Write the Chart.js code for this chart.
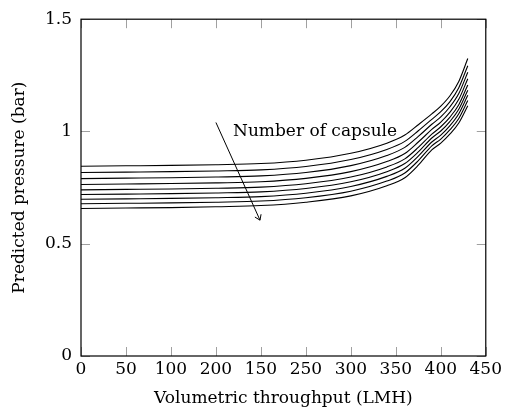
<!DOCTYPE html>
<html>
<head>
<meta charset="utf-8">
<script src="https://cdn.jsdelivr.net/npm/chart.js@4.4.1/dist/chart.umd.min.js"></script>
<style>
  html, body { margin: 0; padding: 0; background: #fff; }
  #wrap { width: 505px; height: 412px; }
</style>
</head>
<body>
<div id="wrap"><canvas id="chart"></canvas></div>
<script>
const throughput = [0, 50, 100, 150, 200, 250, 300, 340, 360, 375, 390, 400, 410, 420, 430];

// one curve per capsule count, top to bottom
const capsule1 = [0.845, 0.847, 0.849, 0.852, 0.857, 0.872, 0.903, 0.948, 0.984, 1.030, 1.078, 1.113, 1.158, 1.223, 1.325];
const capsule2 = [0.817, 0.819, 0.821, 0.824, 0.829, 0.844, 0.875, 0.920, 0.956, 1.003, 1.054, 1.088, 1.132, 1.195, 1.293];
const capsule3 = [0.790, 0.792, 0.794, 0.797, 0.802, 0.817, 0.848, 0.893, 0.929, 0.978, 1.032, 1.065, 1.109, 1.169, 1.264];
const capsule4 = [0.764, 0.766, 0.768, 0.771, 0.776, 0.791, 0.821, 0.866, 0.902, 0.953, 1.009, 1.042, 1.085, 1.143, 1.235];
const capsule5 = [0.740, 0.742, 0.744, 0.747, 0.752, 0.767, 0.797, 0.842, 0.878, 0.929, 0.988, 1.021, 1.063, 1.119, 1.207];
const capsule6 = [0.719, 0.721, 0.723, 0.726, 0.731, 0.746, 0.776, 0.821, 0.857, 0.909, 0.971, 1.002, 1.044, 1.099, 1.184];
const capsule7 = [0.698, 0.700, 0.702, 0.705, 0.710, 0.725, 0.755, 0.800, 0.836, 0.890, 0.953, 0.984, 1.025, 1.079, 1.161];
const capsule8 = [0.678, 0.680, 0.682, 0.685, 0.690, 0.705, 0.734, 0.779, 0.815, 0.870, 0.936, 0.966, 1.007, 1.058, 1.138];
const capsule9 = [0.657, 0.659, 0.661, 0.665, 0.670, 0.685, 0.713, 0.758, 0.794, 0.850, 0.918, 0.948, 0.988, 1.038, 1.115];

// tick labels exactly as printed (note 200 / 150 order)
const xTickLabels = ["0", "50", "100", "200", "150", "250", "300", "350", "400", "450"];
const yTickLabels = ["0", "0.5", "1", "1.5"];

// annotation
const noteText = "Number of capsule";
const notePos = [169, 1.0];
const arrowFrom = [150, 1.04];
const arrowTo = [199, 0.605];

const FONT = "'DejaVu Serif', serif";
const FSIZE = 17;

let chart;

const decorations = {
    id: "decorations",
    afterDatasetsDraw(c) {
        const ctx = c.ctx;
        const a = c.chartArea;
        const x = c.scales.x;
        const y = c.scales.y;
        ctx.save();

        // inward tick marks on all four sides
        ctx.strokeStyle = "#a0a0a0";
        ctx.lineWidth = 1;
        ctx.beginPath();
        x.ticks.forEach(t => {
            const px = Math.round(x.getPixelForValue(t.value)) + 0.5;
            ctx.moveTo(px, a.bottom); ctx.lineTo(px, a.bottom - 9);
            ctx.moveTo(px, a.top); ctx.lineTo(px, a.top + 9);
        });
        y.ticks.forEach(t => {
            const py = Math.round(y.getPixelForValue(t.value)) + 0.5;
            ctx.moveTo(a.left, py); ctx.lineTo(a.left + 9, py);
            ctx.moveTo(a.right, py); ctx.lineTo(a.right - 9, py);
        });
        ctx.stroke();

        // frame
        ctx.strokeStyle = "#000";
        ctx.lineWidth = 1.2;
        ctx.strokeRect(a.left, a.top, a.right - a.left, a.bottom - a.top);

        // arrow
        const x1 = x.getPixelForValue(arrowFrom[0]), y1 = y.getPixelForValue(arrowFrom[1]);
        const x2 = x.getPixelForValue(arrowTo[0]), y2 = y.getPixelForValue(arrowTo[1]);
        ctx.lineWidth = 1;
        ctx.beginPath();
        ctx.moveTo(x1, y1); ctx.lineTo(x2, y2);
        const ang = Math.atan2(y2 - y1, x2 - x1);
        [0.6, -0.6].forEach(d => {
            ctx.moveTo(x2, y2);
            ctx.lineTo(x2 - 6 * Math.cos(ang + d), y2 - 6 * Math.sin(ang + d));
        });
        ctx.stroke();

        // note
        ctx.fillStyle = "#000";
        ctx.font = FSIZE + "px " + FONT;
        ctx.textAlign = "left";
        ctx.textBaseline = "middle";
        ctx.fillText(noteText, x.getPixelForValue(notePos[0]), y.getPixelForValue(notePos[1]));
        ctx.restore();
    }
};

function makeSet(values) {
    return {
        data: throughput.map((t, i) => ({ x: t, y: values[i] })),
        borderColor: "#000",
        borderWidth: 1.1,
        pointRadius: 0,
        fill: false,
        cubicInterpolationMode: "monotone"
    };
}

function initChart() {
    const ctx = document.getElementById("chart").getContext("2d");

    chart = new Chart(ctx, {
        type: "line",
        data: {
            datasets: [capsule1, capsule2, capsule3, capsule4, capsule5,
                       capsule6, capsule7, capsule8, capsule9].map(makeSet)
        },
        options: {
            responsive: true,
            maintainAspectRatio: false,
            animation: false,
            layout: { padding: { left: 0, right: 15, top: 18, bottom: 0 } },
            plugins: { legend: { display: false }, tooltip: { enabled: false } },
            scales: {
                x: {
                    type: "linear",
                    min: 0, max: 450,
                    afterFit: s => { s.height = 56; },
                    grid: { display: false, drawTicks: false },
                    border: { display: false },
                    ticks: {
                        stepSize: 50,
                        padding: 3,
                        color: "#000",
                        font: { family: FONT, size: FSIZE },
                        maxRotation: 0,
                        autoSkip: false,
                        callback: (v, i) => xTickLabels[i]
                    },
                    title: {
                        display: true,
                        text: "Volumetric throughput (LMH)",
                        color: "#000",
                        font: { family: FONT, size: FSIZE },
                        padding: { top: 0, bottom: 3 }
                    }
                },
                y: {
                    min: 0, max: 1.5,
                    afterFit: s => { s.width = 81; },
                    grid: { display: false, drawTicks: false },
                    border: { display: false },
                    ticks: {
                        stepSize: 0.5,
                        padding: 9,
                        color: "#000",
                        font: { family: FONT, size: FSIZE },
                        callback: (v, i) => yTickLabels[i]
                    },
                    title: {
                        display: true,
                        text: "Predicted pressure (bar)",
                        color: "#000",
                        font: { family: FONT, size: FSIZE },
                        padding: { top: 9, bottom: 0 }
                    }
                }
            }
        },
        plugins: [decorations]
    });
}

initChart();
</script>
</body>
</html>
